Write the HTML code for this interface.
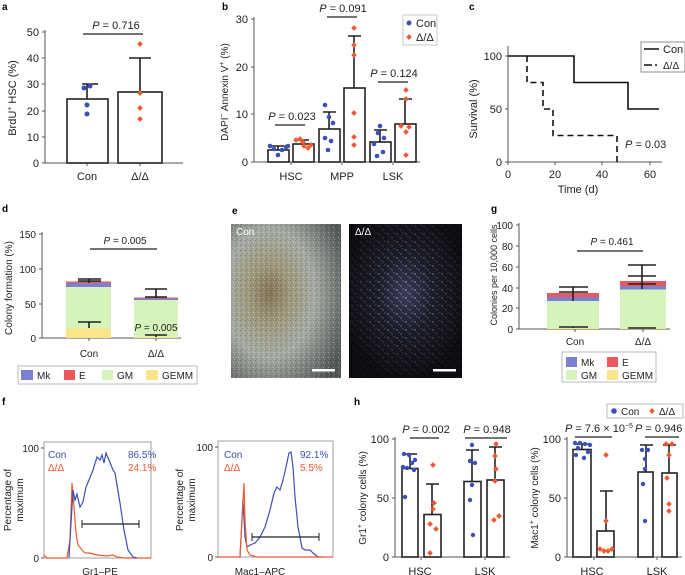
<!DOCTYPE html>
<html><head><meta charset="utf-8"><style>
html,body{margin:0;padding:0;background:#fff;}
svg{display:block;font-family:"Liberation Sans",sans-serif;}
.t{font-size:11px;fill:#222;}
.s{font-size:10px;fill:#222;}
.L{font-size:10px;font-weight:bold;fill:#000;}
.ax{stroke:#555;stroke-width:1;fill:none;}
.bar{fill:#fff;stroke:#222;stroke-width:1.6;}
.er{stroke:#222;stroke-width:1.6;fill:none;}
.pl{stroke:#222;stroke-width:1.2;}
.b{fill:#3a4fb8;}
.o{fill:#ee5a2f;}
</style></head><body>
<svg width="685" height="575" viewBox="0 0 685 575" xmlns="http://www.w3.org/2000/svg">
<defs>
<g id="dm"><rect x="-2" y="-2" width="4" height="4" transform="rotate(45)"/></g>
<radialGradient id="gc" cx="0.35" cy="0.45" r="0.75">
<stop offset="0" stop-color="#857457"/><stop offset="0.25" stop-color="#a09a7c"/><stop offset="0.55" stop-color="#a6ada6"/><stop offset="1" stop-color="#4f5653"/></radialGradient>
<radialGradient id="gd" cx="0.5" cy="0.45" r="0.55">
<stop offset="0" stop-color="#3a3a58"/><stop offset="0.45" stop-color="#1c1c28"/><stop offset="1" stop-color="#0c0c10"/></radialGradient>
<radialGradient id="mg" cx="0.5" cy="0.45" r="0.6">
<stop offset="0" stop-color="#fff" stop-opacity="1"/><stop offset="0.5" stop-color="#fff" stop-opacity="0.55"/><stop offset="1" stop-color="#fff" stop-opacity="0.1"/></radialGradient>
<mask id="mk"><rect x="349" y="224" width="113" height="154" fill="url(#mg)"/></mask>
<pattern id="sp" width="9" height="8" patternUnits="userSpaceOnUse">
<circle cx="1" cy="2" r="0.7" fill="#d0d0ff"/><circle cx="5" cy="6" r="0.6" fill="#c0c0ff"/><circle cx="7" cy="1" r="0.5" fill="#e0e0ff"/><circle cx="3" cy="4.5" r="0.45" fill="#b0b0f0"/></pattern>
<pattern id="gr" width="5" height="5" patternUnits="userSpaceOnUse">
<rect x="0" y="0" width="1.2" height="1.2" fill="#333"/><rect x="3" y="2" width="1" height="1" fill="#fff"/><rect x="1.5" y="3.5" width="1" height="1" fill="#222"/><rect x="4" y="4" width="0.8" height="0.8" fill="#eee"/></pattern>
</defs>

<!-- ===== a ===== -->
<text x="2" y="10" class="L">a</text>
<line x1="45" y1="30" x2="45" y2="163" class="ax"/>
<line x1="45" y1="163" x2="183" y2="163" class="ax"/>
<g class="ax"><line x1="42" y1="32" x2="45" y2="32"/><line x1="42" y1="58" x2="45" y2="58"/><line x1="42" y1="84" x2="45" y2="84"/><line x1="42" y1="111" x2="45" y2="111"/><line x1="42" y1="137" x2="45" y2="137"/><line x1="42" y1="163" x2="45" y2="163"/><line x1="87" y1="163" x2="87" y2="166"/><line x1="140" y1="163" x2="140" y2="166"/></g>
<g class="t" text-anchor="end"><text x="39" y="36">50</text><text x="39" y="62">40</text><text x="39" y="88">30</text><text x="39" y="115">20</text><text x="39" y="141">10</text><text x="39" y="167">0</text></g>
<text class="t" transform="translate(16,98) rotate(-90)" text-anchor="middle">BrdU<tspan font-size="7" dy="-4">+</tspan><tspan dy="4"> HSC (%)</tspan></text>
<rect x="67" y="99" width="41" height="64" class="bar"/>
<rect x="118" y="92" width="44" height="71" class="bar"/>
<path d="M87 99V84M82 84H98M140 92V58M129 58H151" class="er"/>
<g class="b"><circle cx="84" cy="88" r="2.5"/><circle cx="90" cy="86" r="2.5"/><circle cx="87" cy="105" r="2.5"/><circle cx="87" cy="114" r="2.5"/></g>
<g class="o"><use href="#dm" x="140" y="44"/><use href="#dm" x="140" y="93"/><use href="#dm" x="140" y="108"/><use href="#dm" x="140" y="119"/></g>
<line x1="83" y1="34" x2="143" y2="34" class="pl"/>
<text x="116" y="29" class="t" text-anchor="middle"><tspan font-style="italic">P</tspan> = 0.716</text>
<text x="87" y="180" class="t" text-anchor="middle">Con</text>
<text x="140" y="180" class="t" text-anchor="middle">Δ/Δ</text>

<!-- ===== b ===== -->
<text x="222" y="10" class="L">b</text>
<line x1="254" y1="17" x2="254" y2="162" class="ax"/>
<line x1="254" y1="162" x2="420" y2="162" class="ax"/>
<g class="ax"><line x1="251" y1="19" x2="254" y2="19"/><line x1="251" y1="67" x2="254" y2="67"/><line x1="251" y1="114" x2="254" y2="114"/><line x1="251" y1="162" x2="254" y2="162"/><line x1="291" y1="162" x2="291" y2="165"/><line x1="342" y1="162" x2="342" y2="165"/><line x1="393" y1="162" x2="393" y2="165"/></g>
<g class="t" text-anchor="end"><text x="248" y="23">30</text><text x="248" y="71">20</text><text x="248" y="118">10</text><text x="248" y="166">0</text></g>
<text class="s" transform="translate(228,92) rotate(-90)" text-anchor="middle">DAPI<tspan font-size="7" dy="-4">−</tspan><tspan dy="4"> Annexin V</tspan><tspan font-size="7" dy="-4">+</tspan><tspan dy="4"> (%)</tspan></text>
<rect x="268" y="150" width="21" height="12" class="bar"/>
<rect x="293" y="144" width="21" height="18" class="bar"/>
<rect x="319" y="129" width="21" height="33" class="bar"/>
<rect x="344" y="88" width="21" height="74" class="bar"/>
<rect x="370" y="142" width="21" height="20" class="bar"/>
<rect x="395" y="124" width="21" height="38" class="bar"/>
<path d="M278 150V146M272 146H284M303 144V140M297 140H309M329 129V112M323 112H336M354 88V36M348 36H361M380 142V130M374 130H387M405 124V99M399 99H412" class="er"/>
<g class="b"><circle cx="270" cy="146" r="2.3"/><circle cx="274" cy="149" r="2.3"/><circle cx="278" cy="155" r="2.3"/><circle cx="282" cy="150" r="2.3"/><circle cx="286" cy="147" r="2.3"/><circle cx="288" cy="146" r="2.3"/>
<circle cx="325" cy="105" r="2.3"/><circle cx="329" cy="117" r="2.3"/><circle cx="333" cy="123" r="2.3"/><circle cx="325" cy="138" r="2.3"/><circle cx="331" cy="141" r="2.3"/><circle cx="328" cy="150" r="2.3"/>
<circle cx="380" cy="126" r="2.3"/><circle cx="378" cy="133" r="2.3"/><circle cx="384" cy="138" r="2.3"/><circle cx="374" cy="144" r="2.3"/><circle cx="383" cy="152" r="2.3"/><circle cx="377" cy="156" r="2.3"/></g>
<g class="o"><use href="#dm" x="296" y="140"/><use href="#dm" x="300" y="139"/><use href="#dm" x="304" y="146"/><use href="#dm" x="308" y="148"/><use href="#dm" x="311" y="145"/><use href="#dm" x="303" y="142"/>
<use href="#dm" x="354" y="28"/><use href="#dm" x="354" y="45"/><use href="#dm" x="354" y="55"/><use href="#dm" x="354" y="113"/><use href="#dm" x="354" y="137"/><use href="#dm" x="354" y="145"/>
<use href="#dm" x="406" y="90"/><use href="#dm" x="406" y="99"/><use href="#dm" x="401" y="126"/><use href="#dm" x="409" y="127"/><use href="#dm" x="406" y="132"/><use href="#dm" x="406" y="155"/></g>
<line x1="275" y1="125" x2="305" y2="125" class="pl"/>
<text x="292" y="120" class="t" text-anchor="middle"><tspan font-style="italic">P</tspan> = 0.023</text>
<line x1="327" y1="17" x2="357" y2="17" class="pl"/>
<text x="343" y="12" class="t" text-anchor="middle"><tspan font-style="italic">P</tspan> = 0.091</text>
<line x1="378" y1="82" x2="408" y2="82" class="pl"/>
<text x="394" y="77" class="t" text-anchor="middle"><tspan font-style="italic">P</tspan> = 0.124</text>
<rect x="403" y="15" width="34" height="30" fill="#fff" stroke="#bbb" stroke-width="0.8"/>
<circle cx="409" cy="23" r="2.5" class="b"/><use href="#dm" x="409" y="37" class="o"/>
<text x="416" y="27" class="t">Con</text><text x="416" y="41" class="t">Δ/Δ</text>
<text x="291" y="180" class="t" text-anchor="middle">HSC</text>
<text x="342" y="180" class="t" text-anchor="middle">MPP</text>
<text x="393" y="180" class="t" text-anchor="middle">LSK</text>

<!-- ===== c ===== -->
<text x="469" y="10" class="L">c</text>
<line x1="508" y1="46" x2="508" y2="162" class="ax"/>
<line x1="508" y1="162" x2="662" y2="162" class="ax"/>
<g class="ax"><line x1="505" y1="56" x2="508" y2="56"/><line x1="505" y1="109" x2="508" y2="109"/><line x1="505" y1="162" x2="508" y2="162"/><line x1="508" y1="162" x2="508" y2="165"/><line x1="555" y1="162" x2="555" y2="165"/><line x1="602" y1="162" x2="602" y2="165"/><line x1="650" y1="162" x2="650" y2="165"/></g>
<g class="t" text-anchor="end"><text x="502" y="60">100</text><text x="502" y="113">50</text><text x="502" y="166">0</text></g>
<g class="t" text-anchor="middle"><text x="508" y="178">0</text><text x="555" y="178">20</text><text x="602" y="178">40</text><text x="650" y="178">60</text><text x="578" y="193">Time (d)</text></g>
<text class="t" transform="translate(477,109) rotate(-90)" text-anchor="middle">Survival (%)</text>
<path d="M508 56H574V82.5H628V109H659" stroke="#111" stroke-width="1.6" fill="none"/>
<path d="M527 56V82.5H543V109H553V135.5H617V162" stroke="#111" stroke-width="1.6" fill="none" stroke-dasharray="6,4"/>
<text x="625" y="148" class="t"><tspan font-style="italic">P</tspan> = 0.03</text>
<rect x="641" y="42" width="44" height="30" fill="#fff" stroke="#777" stroke-width="0.8"/>
<line x1="644" y1="49" x2="659" y2="49" stroke="#111" stroke-width="1.5"/>
<line x1="644" y1="65" x2="652" y2="65" stroke="#111" stroke-width="1.5"/><line x1="655" y1="65" x2="657" y2="65" stroke="#111" stroke-width="1.5"/>
<text x="663" y="53" class="t">Con</text><text x="663" y="69" class="s">Δ/Δ</text>

<!-- ===== d ===== -->
<text x="2" y="212" class="L">d</text>
<line x1="42" y1="232" x2="42" y2="338" class="ax"/>
<line x1="42" y1="338" x2="181" y2="338" class="ax"/>
<g class="ax"><line x1="39" y1="234" x2="42" y2="234"/><line x1="39" y1="269" x2="42" y2="269"/><line x1="39" y1="304" x2="42" y2="304"/><line x1="39" y1="338" x2="42" y2="338"/><line x1="89" y1="338" x2="89" y2="341"/><line x1="156" y1="338" x2="156" y2="341"/></g>
<g class="s" text-anchor="end"><text x="36" y="238">150</text><text x="36" y="273">100</text><text x="36" y="308">50</text><text x="36" y="342">0</text></g>
<text class="s" transform="translate(12,288) rotate(-90)" text-anchor="middle">Colony formation (%)</text>
<rect x="66" y="328" width="45" height="10" fill="#f9e68a"/>
<rect x="66" y="287" width="45" height="41" fill="#d5f3bb"/>
<rect x="66" y="283" width="45" height="4" fill="#7c80d2"/>
<rect x="66" y="281.5" width="45" height="1.5" fill="#e8585c"/>
<rect x="134" y="337" width="44" height="1" fill="#f9e68a"/>
<rect x="134" y="300" width="44" height="37" fill="#d5f3bb"/>
<rect x="134" y="298.5" width="44" height="1.5" fill="#7c80d2"/>
<rect x="134" y="297.5" width="44" height="1" fill="#e8585c"/>
<path d="M89 283V279M78 279H101M78 281H101M89 328V322M78 322H101M156 298V289M145 289H167M145 297H167M156 337V335M145 335H167" class="er"/>
<line x1="90" y1="249" x2="157" y2="249" class="pl"/>
<text x="125" y="244" class="s" text-anchor="middle"><tspan font-style="italic">P</tspan> = 0.005</text>
<text x="156" y="331" class="s" text-anchor="middle"><tspan font-style="italic">P</tspan> = 0.005</text>
<text x="89" y="357" class="s" text-anchor="middle">Con</text>
<text x="156" y="357" class="s" text-anchor="middle">Δ/Δ</text>
<rect x="18" y="366" width="179" height="18" fill="#fff" stroke="#aaa" stroke-width="0.8"/>
<rect x="21" y="370" width="12" height="10" fill="#7c80d2"/><text x="37" y="379" class="s">Mk</text>
<rect x="64" y="370" width="11" height="10" fill="#e8585c"/><text x="79" y="379" class="s">E</text>
<rect x="102" y="370" width="11" height="10" fill="#d5f3bb"/><text x="117" y="379" class="s">GM</text>
<rect x="146" y="370" width="12" height="10" fill="#f9e68a"/><text x="162" y="379" class="s">GEMM</text>

<!-- ===== e ===== -->
<text x="232" y="214" class="L">e</text>
<rect x="231" y="224" width="110" height="154" fill="url(#gc)"/>
<rect x="231" y="224" width="110" height="154" fill="url(#gr)" opacity="0.35"/>
<rect x="349" y="224" width="113" height="154" fill="url(#gd)"/>
<rect x="349" y="224" width="113" height="154" fill="url(#sp)" mask="url(#mk)"/>
<text x="236" y="235" font-size="10" fill="#fff">Con</text>
<text x="355" y="235" font-size="10" fill="#fff">Δ/Δ</text>
<rect x="312" y="369" width="23" height="2.5" fill="#fff"/>
<rect x="433" y="369" width="23" height="2.5" fill="#fff"/>

<!-- ===== g ===== -->
<text x="491" y="212" class="L">g</text>
<line x1="519" y1="223" x2="519" y2="329" class="ax"/>
<line x1="519" y1="329" x2="670" y2="329" class="ax"/>
<g class="ax"><line x1="516" y1="225" x2="519" y2="225"/><line x1="516" y1="246" x2="519" y2="246"/><line x1="516" y1="267" x2="519" y2="267"/><line x1="516" y1="288" x2="519" y2="288"/><line x1="516" y1="308" x2="519" y2="308"/><line x1="516" y1="329" x2="519" y2="329"/><line x1="575" y1="329" x2="575" y2="332"/><line x1="643" y1="329" x2="643" y2="332"/></g>
<g class="s" text-anchor="end"><text x="513" y="229">100</text><text x="513" y="250">80</text><text x="513" y="271">60</text><text x="513" y="292">40</text><text x="513" y="312">20</text><text x="513" y="333">0</text></g>
<text transform="translate(497,275) rotate(-90)" text-anchor="middle" font-size="9" fill="#222">Colonies per 10,000 cells</text>
<rect x="547" y="328" width="52" height="1" fill="#f9e68a"/>
<rect x="547" y="301" width="52" height="27" fill="#d5f3bb"/>
<rect x="547" y="297" width="52" height="4" fill="#7c80d2"/>
<rect x="547" y="293" width="52" height="4" fill="#e8585c"/>
<rect x="620" y="328" width="46" height="1" fill="#f9e68a"/>
<rect x="620" y="289.5" width="46" height="38.5" fill="#d5f3bb"/>
<rect x="620" y="286" width="46" height="3.5" fill="#7c80d2"/>
<rect x="620" y="281" width="46" height="5" fill="#e8585c"/>
<path d="M573 301V287M559 287H588M559 292H588M573 328V327M559 327H588M642 289V265M628 265H656M628 276H656M628 284H656M642 328H628H656" class="er"/>
<line x1="577" y1="251" x2="643" y2="251" class="pl"/>
<text x="612" y="245" class="s" text-anchor="middle"><tspan font-style="italic">P</tspan> = 0.461</text>
<text x="575" y="345" class="s" text-anchor="middle">Con</text>
<text x="643" y="345" class="s" text-anchor="middle">Δ/Δ</text>
<rect x="562" y="352" width="94" height="30" fill="#fff" stroke="#aaa" stroke-width="0.8"/>
<rect x="566" y="357" width="11" height="10" fill="#7c80d2"/><text x="581" y="366" class="s">Mk</text>
<rect x="607" y="357" width="11" height="10" fill="#e8585c"/><text x="622" y="366" class="s">E</text>
<rect x="566" y="370" width="11" height="10" fill="#d5f3bb"/><text x="581" y="379" class="s">GM</text>
<rect x="607" y="370" width="11" height="10" fill="#f9e68a"/><text x="622" y="379" class="s">GEMM</text>

<!-- ===== f ===== -->
<text x="2" y="405" class="L">f</text>
<rect x="44" y="442" width="107" height="116" fill="none" stroke="#888" stroke-width="0.8"/>
<g class="ax"><line x1="41" y1="448" x2="44" y2="448"/><line x1="41" y1="558" x2="44" y2="558"/></g>
<g class="s" text-anchor="end"><text x="39" y="452">100</text><text x="39" y="562">0</text></g>
<g class="s" text-anchor="middle" transform="translate(0,500)"><text transform="translate(11,0) rotate(-90)">Percentage of</text><text transform="translate(23,0) rotate(-90)">maximum</text></g>
<polyline fill="none" stroke="#ee5a2f" stroke-width="1.2" points="44,555 47,558 67,558 70,540 72,483 74,507 76,533 78,545 82,550 85,553 90,553 97,555 107,556 113,555 117,557 124,558 151,558"/>
<polyline fill="none" stroke="#3a4fb8" stroke-width="1.2" points="69,558 70,540 73,490 75,500 77,494 80,507 83,502 86,487 89,480 93,470 97,457 100,460 102,455 104,463 106,453 109,460 113,470 115,473 120,503 124,530 128,550 133,557 137,558"/>
<line x1="82" y1="524" x2="139" y2="524" stroke="#222" stroke-width="1.3"/><line x1="82" y1="520" x2="82" y2="528" stroke="#222"/><line x1="139" y1="520" x2="139" y2="528" stroke="#222"/>
<text x="48" y="458" font-size="10" fill="#3a4fb8">Con</text><text x="48" y="471" font-size="10" fill="#ee5a2f">Δ/Δ</text>
<text x="128" y="458" font-size="10" fill="#3a4fb8">86.5%</text><text x="128" y="471" font-size="10" fill="#ee5a2f">24.1%</text>
<text x="100" y="575" class="s" text-anchor="middle">Gr1–PE</text>

<rect x="218" y="441" width="115" height="116" fill="none" stroke="#888" stroke-width="0.8"/>
<g class="ax"><line x1="215" y1="447" x2="218" y2="447"/><line x1="215" y1="557" x2="218" y2="557"/></g>
<g class="s" text-anchor="end"><text x="213" y="451">100</text><text x="213" y="561">0</text></g>
<g class="s" text-anchor="middle" transform="translate(0,500)"><text transform="translate(183,0) rotate(-90)">Percentage of</text><text transform="translate(195,0) rotate(-90)">maximum</text></g>
<polyline fill="none" stroke="#3a4fb8" stroke-width="1.2" points="240,557 243,500 245,537 247,547 250,545 255,543 260,537 265,527 270,510 274,493 277,487 280,490 283,480 286,467 289,453 291,452 293,467 295,497 298,527 302,548 305,550 310,550 313,553 318,557 322,557"/>
<polyline fill="none" stroke="#ee5a2f" stroke-width="1.2" points="218,557 240,557 242,520 244,483 245,520 247,550 250,555 257,557 333,557"/>
<line x1="252" y1="537" x2="319" y2="537" stroke="#222" stroke-width="1.3"/><line x1="252" y1="533" x2="252" y2="541" stroke="#222"/><line x1="319" y1="533" x2="319" y2="541" stroke="#222"/>
<text x="224" y="458" font-size="10" fill="#3a4fb8">Con</text><text x="224" y="471" font-size="10" fill="#ee5a2f">Δ/Δ</text>
<text x="300" y="458" font-size="10" fill="#3a4fb8">92.1%</text><text x="300" y="471" font-size="10" fill="#ee5a2f">5.5%</text>
<text x="260" y="575" class="s" text-anchor="middle">Mac1–APC</text>

<!-- ===== h ===== -->
<text x="354" y="405" class="L">h</text>
<rect x="607" y="404" width="76" height="14" fill="#fff" stroke="#aaa" stroke-width="0.8"/>
<circle cx="614" cy="411" r="2.8" class="b"/><text x="621" y="415" class="s">Con</text>
<use href="#dm" x="652" y="411" class="o"/><text x="659" y="415" class="s">Δ/Δ</text>

<line x1="395" y1="437" x2="395" y2="557" class="ax"/>
<line x1="395" y1="557" x2="510" y2="557" class="ax"/>
<g class="ax"><line x1="392" y1="439" x2="395" y2="439"/><line x1="392" y1="498" x2="395" y2="498"/><line x1="392" y1="557" x2="395" y2="557"/><line x1="421" y1="557" x2="421" y2="560"/><line x1="485" y1="557" x2="485" y2="560"/></g>
<g class="t" text-anchor="end"><text x="389" y="443">100</text><text x="389" y="502">50</text><text x="389" y="561">0</text></g>
<text class="s" transform="translate(366,498) rotate(-90)" text-anchor="middle">Gr1<tspan font-size="7" dy="-4">+</tspan><tspan dy="4"> colony cells (%)</tspan></text>
<rect x="402" y="468.5" width="16" height="88.5" class="bar"/>
<rect x="424" y="514.5" width="17" height="42.5" class="bar"/>
<rect x="464" y="481.5" width="17" height="75.5" class="bar"/>
<rect x="487" y="480" width="17" height="77" class="bar"/>
<path d="M410 468V454M404 454H417M432 514V484M426 484H439M472 481V450M466 450H479M495 480V447M489 447H502" class="er"/>
<g class="b"><circle cx="404" cy="454" r="2.2"/><circle cx="409" cy="455" r="2.2"/><circle cx="415" cy="460" r="2.2"/><circle cx="412" cy="463" r="2.2"/><circle cx="403" cy="467" r="2.2"/><circle cx="407" cy="468" r="2.2"/><circle cx="414" cy="470" r="2.2"/><circle cx="405" cy="497" r="2.2"/>
<circle cx="472" cy="445" r="2.2"/><circle cx="470" cy="461" r="2.2"/><circle cx="475" cy="463" r="2.2"/><circle cx="472" cy="485" r="2.2"/><circle cx="470" cy="500" r="2.2"/><circle cx="473" cy="535" r="2.2"/></g>
<g class="o"><use href="#dm" x="433" y="465"/><use href="#dm" x="434" y="503"/><use href="#dm" x="433" y="509"/><use href="#dm" x="430" y="524"/><use href="#dm" x="436" y="529"/><use href="#dm" x="430" y="553"/>
<use href="#dm" x="496" y="444"/><use href="#dm" x="495" y="456"/><use href="#dm" x="496" y="469"/><use href="#dm" x="495" y="481"/><use href="#dm" x="499" y="516"/><use href="#dm" x="494" y="520"/></g>
<line x1="410" y1="438" x2="439" y2="438" class="pl"/>
<text x="426" y="433" class="t" text-anchor="middle"><tspan font-style="italic">P</tspan> = 0.002</text>
<line x1="465" y1="438" x2="507" y2="438" class="pl"/>
<text x="487" y="433" class="t" text-anchor="middle"><tspan font-style="italic">P</tspan> = 0.948</text>
<text x="420" y="575" class="t" text-anchor="middle">HSC</text>
<text x="485" y="575" class="t" text-anchor="middle">LSK</text>

<line x1="567" y1="437" x2="567" y2="557" class="ax"/>
<line x1="567" y1="557" x2="682" y2="557" class="ax"/>
<g class="ax"><line x1="564" y1="439" x2="567" y2="439"/><line x1="564" y1="498" x2="567" y2="498"/><line x1="564" y1="557" x2="567" y2="557"/><line x1="594" y1="557" x2="594" y2="560"/><line x1="657" y1="557" x2="657" y2="560"/></g>
<g class="t" text-anchor="end"><text x="561" y="443">100</text><text x="561" y="502">50</text><text x="561" y="561">0</text></g>
<text class="s" transform="translate(538,498) rotate(-90)" text-anchor="middle">Mac1<tspan font-size="7" dy="-4">+</tspan><tspan dy="4"> colony cells (%)</tspan></text>
<rect x="573" y="449.5" width="18" height="107.5" class="bar"/>
<rect x="597" y="531" width="17" height="26" class="bar"/>
<rect x="638" y="472" width="15" height="85" class="bar"/>
<rect x="662" y="473" width="15" height="84" class="bar"/>
<path d="M582 449V444M576 444H589M606 531V491M600 491H613M646 472V445M640 445H653M669 473V445M663 445H676" class="er"/>
<g class="b"><circle cx="575" cy="443" r="2.2"/><circle cx="580" cy="443" r="2.2"/><circle cx="585" cy="444" r="2.2"/><circle cx="590" cy="445" r="2.2"/><circle cx="578" cy="448" r="2.2"/><circle cx="588" cy="452" r="2.2"/><circle cx="576" cy="455" r="2.2"/><circle cx="584" cy="458" r="2.2"/>
<circle cx="642" cy="450" r="2.2"/><circle cx="648" cy="450" r="2.2"/><circle cx="645" cy="459" r="2.2"/><circle cx="645" cy="469" r="2.2"/><circle cx="643" cy="484" r="2.2"/><circle cx="645" cy="521" r="2.2"/></g>
<g class="o"><use href="#dm" x="606" y="455"/><use href="#dm" x="606" y="521"/><use href="#dm" x="600" y="549"/><use href="#dm" x="604" y="551"/><use href="#dm" x="608" y="551"/><use href="#dm" x="612" y="549"/>
<use href="#dm" x="666" y="444"/><use href="#dm" x="672" y="444"/><use href="#dm" x="669" y="455"/><use href="#dm" x="667" y="478"/><use href="#dm" x="669" y="504"/><use href="#dm" x="669" y="511"/></g>
<line x1="575" y1="437" x2="612" y2="437" class="pl"/>
<text x="565" y="432" class="t"><tspan font-style="italic">P</tspan> = 7.6 × 10<tspan font-size="7" dy="-4">−5</tspan></text>
<line x1="645" y1="437" x2="679" y2="437" class="pl"/>
<text x="635" y="432" class="t"><tspan font-style="italic">P</tspan> = 0.946</text>
<text x="592" y="575" class="t" text-anchor="middle">HSC</text>
<text x="657" y="575" class="t" text-anchor="middle">LSK</text>
</svg>
</body></html>
